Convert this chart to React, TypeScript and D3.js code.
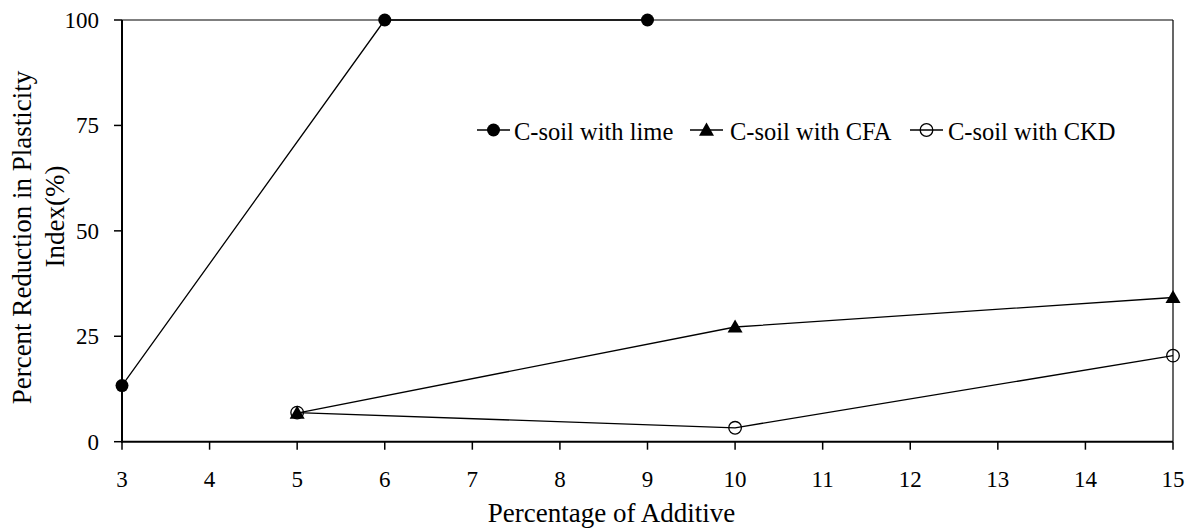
import React from "react";
import * as d3 from "d3";

const xTicks = [3, 4, 5, 6, 7, 8, 9, 10, 11, 12, 13, 14, 15];
const yTicks = [0, 25, 50, 75, 100];

const limeX = [3, 6, 9];
const limeY = [13.3, 100, 100];
const cfaX = [5, 10, 15];
const cfaY = [6.8, 27.2, 34.2];
const ckdX = [5, 10, 15];
const ckdY = [6.9, 3.3, 20.4];

const seriesNames = ["C-soil with lime", "C-soil with CFA", "C-soil with CKD"];

const W = 1197;
const H = 531;
const left = 122;
const right = 1173;
const top = 20;
const bottom = 441.7;
const FONT = "'Liberation Serif', 'Times New Roman', Times, serif";
const tStyle = { fontFamily: FONT };

type Kind = "dot" | "tri" | "ring";

function Marker({ x, y, kind }: { x: number; y: number; kind: Kind }) {
  if (kind === "dot") return <circle cx={x} cy={y} r={6.5} fill="#000" />;
  if (kind === "ring")
    return <circle cx={x} cy={y} r={6.3} fill="none" stroke="#000" strokeWidth={1.3} />;
  const s = 7.5;
  const path = `M${x},${y - s} L${x + s},${y + s * 0.75} L${x - s},${y + s * 0.75} Z`;
  return <path d={path} fill="#000" />;
}

export default function App() {
  const x = d3.scaleLinear().domain([3, 15]).range([left, right]);
  const y = d3.scaleLinear().domain([0, 100]).range([bottom, top]);
  const line = d3
    .line<[number, number]>()
    .x((d) => x(d[0]))
    .y((d) => y(d[1]));

  const series: { xs: number[]; ys: number[]; kind: Kind }[] = [
    { xs: limeX, ys: limeY, kind: "dot" },
    { xs: cfaX, ys: cfaY, kind: "tri" },
    { xs: ckdX, ys: ckdY, kind: "ring" },
  ];

  const legend = [
    { lx: 477, tx: 514 },
    { lx: 690, tx: 730 },
    { lx: 910, tx: 948 },
  ];
  const legY = 130;

  return (
    <svg
      width={W}
      height={H}
      style={{ position: "absolute", left: 0, top: 0, background: "#fff", fontFamily: FONT }}
    >
      <rect x={0} y={0} width={W} height={H} fill="#fff" />
      <line x1={left} x2={right} y1={top} y2={top} stroke="#000" strokeWidth={1.2} />
      <line x1={right} x2={right} y1={top} y2={bottom} stroke="#000" strokeWidth={1.2} />
      <line x1={left} x2={left} y1={top} y2={bottom + 1} stroke="#000" strokeWidth={2} />
      <line x1={left - 1} x2={right} y1={bottom} y2={bottom} stroke="#000" strokeWidth={2} />

      {yTicks.map((t) => (
        <g key={"y" + t}>
          <line x1={left - 8} x2={left} y1={y(t)} y2={y(t)} stroke="#000" strokeWidth={1.5} />
          <text x={99} y={y(t)} dy="0.34em" textAnchor="end" fontSize={23} style={tStyle}>
            {t}
          </text>
        </g>
      ))}
      {xTicks.map((t) => (
        <g key={"x" + t}>
          <line x1={x(t)} x2={x(t)} y1={bottom} y2={bottom + 8} stroke="#000" strokeWidth={1.5} />
          <text x={x(t)} y={487} textAnchor="middle" fontSize={23} style={tStyle}>
            {t}
          </text>
        </g>
      ))}

      {series.map((s, i) => {
        const pts = s.xs.map((v, j) => [v, s.ys[j]] as [number, number]);
        return (
          <g key={"s" + i}>
            <path d={line(pts) || ""} fill="none" stroke="#000" strokeWidth={1.3} />
            {pts.map((p, j) => (
              <Marker key={j} x={x(p[0])} y={y(p[1])} kind={s.kind} />
            ))}
          </g>
        );
      })}

      {legend.map((l, i) => (
        <g key={"l" + i}>
          <line x1={l.lx} x2={l.lx + 33} y1={legY} y2={legY} stroke="#000" strokeWidth={1.3} />
          <Marker x={l.lx + 16.5} y={legY} kind={series[i].kind} />
          <text x={l.tx} y={140} fontSize={24.5} style={tStyle}>
            {seriesNames[i]}
          </text>
        </g>
      ))}

      <text x={611.5} y={522} textAnchor="middle" fontSize={27} style={tStyle}>
        Percentage of Additive
      </text>
      <text transform="translate(31,237.5) rotate(-90)" textAnchor="middle" fontSize={27} style={tStyle}>
        Percent Reduction in Plasticity
      </text>
      <text transform="translate(64,216.5) rotate(-90)" textAnchor="middle" fontSize={27} style={tStyle}>
        Index(%)
      </text>
    </svg>
  );
}
